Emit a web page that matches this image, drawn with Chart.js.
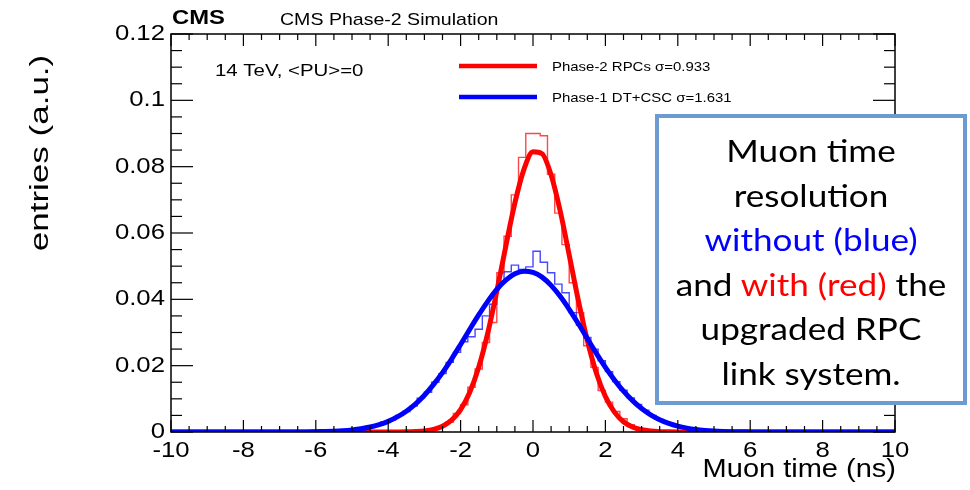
<!DOCTYPE html>
<html>
<head>
<meta charset="utf-8">
<title>Muon time resolution</title>
<script src="https://cdn.jsdelivr.net/npm/chart.js@4.4.1/dist/chart.umd.min.js"></script>
<style>
  html, body { margin: 0; padding: 0; background: #fff; }
  #wrap { position: relative; width: 970px; height: 490px; overflow: hidden; }
  #plot { position: absolute; left: 0; top: 0; }
  .note {
    position: absolute; left: 655px; top: 114px; width: 312px; height: 291px;
    box-sizing: border-box; border: 4px solid #6b9bd1; background: #fff;
    padding-top: 10px; text-align: center; color: #000;
    font-family: Lato, 'Open Sans', sans-serif; font-size: 30px; line-height: 44.6px;
  }
  .note div { transform: scaleX(1.17); transform-origin: 50% 0; white-space: nowrap; }
  .blue { color: #0000ff; }
  .red  { color: #ff0000; }
</style>
</head>
<body>
<div id="wrap">
  <canvas id="plot" width="970" height="490"></canvas>
  <div class="note"><div>Muon time<br>resolution<br><span class="blue">without (blue)</span><br>and <span class="red">with (red)</span> the<br>upgraded RPC<br>link system.</div></div>
</div>
<script>
//DATA
const seriesLabels = ['Phase-2 RPCs \u03c3=0.933', 'Phase-1 DT+CSC \u03c3=1.631'];

// histograms, 0.2 ns bins
const binWidth = 0.2;
const redHistStart = -4;
const redHist = [
  0, 0.00003, 0.00005, 0.0001, 0.0003, 0.0005, 0.0009, 0.0018, 0.0030, 0.0056,
  0.0082, 0.0135, 0.0190, 0.0270, 0.0330, 0.0480, 0.0590, 0.0715, 0.0828, 0.0900,
  0.0900, 0.0893, 0.0777, 0.0660, 0.0565, 0.0450, 0.0360, 0.0260, 0.0195, 0.0125,
  0.0090, 0.0062, 0.0040, 0.0022, 0.0012, 0.0005, 0.0002, 0.0001, 0.00005, 0
];
const blueHistStart = -6;
const blueHist = [
  0.0001, 0.0002, 0.0002, 0.0004, 0.0005, 0.0008, 0.0010, 0.0016, 0.0020, 0.0030,
  0.0036, 0.0050, 0.0062, 0.0078, 0.0102, 0.0120, 0.0150, 0.0176, 0.0210, 0.0240,
  0.0272, 0.0287, 0.0310, 0.0350, 0.0385, 0.0455, 0.0483, 0.0503, 0.0490, 0.0498,
  0.0545, 0.0512, 0.0480, 0.0446, 0.0420, 0.0360, 0.0322, 0.0285, 0.0250, 0.0215,
  0.0182, 0.0152, 0.0126, 0.0103, 0.0083, 0.0066, 0.0050, 0.0038, 0.0029, 0.0021,
  0.0016, 0.0011, 0.0008, 0.0005, 0.0004, 0.0003, 0.0002, 0.0001, 0.0001, 0
];

// fitted curves, read every 0.25 ns from -10 to 10
const fitStart = -10;
const fitStep = 0.25;
const redFit = [
  0, 0, 0, 0, 0, 0, 0, 0, 0, 0, 0, 0, 0, 0, 0, 0, 0, 0, 0, 0, 0, 0, 0, 0,
  0.00001, 0.00002, 0.00005, 0.00014, 0.00034, 0.0008, 0.00175, 0.00356, 0.00675, 0.0119,
  0.0195, 0.0298, 0.0424, 0.0561, 0.0691, 0.0792, 0.0845, 0.0839, 0.0775, 0.0667,
  0.0534, 0.0398, 0.0276, 0.0178, 0.0107, 0.0060, 0.0031, 0.0015, 0.00068, 0.00029,
  0.00011, 0.00004, 0.00001,
  0, 0, 0, 0, 0, 0, 0, 0, 0, 0, 0, 0, 0, 0, 0, 0, 0, 0, 0, 0, 0, 0, 0, 0
];
const blueFit = [
  0, 0, 0, 0, 0, 0, 0, 0, 0, 0, 0, 0, 0, 0, 0, 0,
  0.00009, 0.00015, 0.00025, 0.0004, 0.00064, 0.00099, 0.0015, 0.00222, 0.00321, 0.00454,
  0.00627, 0.00843, 0.0111, 0.0143, 0.0179, 0.0220, 0.0264, 0.0309, 0.0353, 0.0394,
  0.0430, 0.0458, 0.0477, 0.0485, 0.0481, 0.0467, 0.0442, 0.0409, 0.0370, 0.0327,
  0.0282, 0.0237, 0.0195, 0.0157, 0.0123, 0.00945, 0.00708, 0.00518, 0.0037, 0.00258,
  0.00176, 0.00117, 0.00076, 0.00049, 0.0003, 0.00018, 0.0001, 0.00006, 0.00003,
  0, 0, 0, 0, 0, 0, 0, 0, 0, 0, 0, 0, 0, 0, 0, 0
];

// axes
const xTicks = [-10, -8, -6, -4, -2, 0, 2, 4, 6, 8, 10];
const xTickLabels = ['-10', '-8', '-6', '-4', '-2', '0', '2', '4', '6', '8', '10'];
const yTicks = [0, 0.02, 0.04, 0.06, 0.08, 0.1, 0.12];
const yTickLabels = ['0', '0.02', '0.04', '0.06', '0.08', '0.1', '0.12'];
const xMinorStep = 0.5;
const yMinorStep = 0.005;

const RED = '#ff0000';
const BLUE = '#0000ff';
const FONT = "'Liberation Sans', Arial, Helvetica, sans-serif";
const WIDE = 1.17; // the slide image is stretched sideways

const bins = (start, vals) => vals.map((v, i) => ({ x: start + (i + 0.5) * binWidth, y: v }));
const curve = vals => vals.map((v, i) => ({ x: fitStart + i * fitStep, y: v }));

function wideText(ctx, text, x, y, sx = WIDE) {
  ctx.save();
  ctx.translate(x, y);
  ctx.scale(sx, 1);
  ctx.fillText(text, 0, 0);
  ctx.restore();
}

//ROOT-STYLE FRAME, TICKS AND TEXT
const rootFrame = {
  id: 'rootFrame',
  afterDatasetsDraw(chart) {
    const { ctx, chartArea: a, scales: { x, y } } = chart;
    const seg = (x1, y1, x2, y2) => { ctx.beginPath(); ctx.moveTo(x1, y1); ctx.lineTo(x2, y2); ctx.stroke(); };
    ctx.save();
    ctx.strokeStyle = '#000';
    ctx.lineWidth = 1.5;
    ctx.strokeRect(a.left, a.top, a.right - a.left, a.bottom - a.top);

    ctx.lineWidth = 1.2;
    const xLo = xTicks[0], xHi = xTicks[xTicks.length - 1];
    for (let i = 0; xLo + i * xMinorStep <= xHi + 1e-9; i++) {
      const v = xLo + i * xMinorStep;
      const px = x.getPixelForValue(v);
      const len = xTicks.includes(v) ? 12 : 6;
      seg(px, a.bottom, px, a.bottom - len);
      seg(px, a.top, px, a.top + len);
    }
    const yLo = yTicks[0], yHi = yTicks[yTicks.length - 1];
    for (let i = 0; yLo + i * yMinorStep <= yHi + 1e-9; i++) {
      const py = y.getPixelForValue(yLo + i * yMinorStep);
      const len = i % 4 === 0 ? 22 : 11;
      seg(a.left, py, a.left + len, py);
      seg(a.right, py, a.right - len, py);
    }

    ctx.fillStyle = '#000';
    ctx.font = '22px ' + FONT;
    ctx.textAlign = 'center';
    ctx.textBaseline = 'middle';
    xTicks.forEach((v, i) => wideText(ctx, xTickLabels[i], x.getPixelForValue(v), a.bottom + 19));
    ctx.textAlign = 'right';
    yTicks.forEach((v, i) => wideText(ctx, yTickLabels[i], a.left - 6, y.getPixelForValue(v)));

    // axis titles
    ctx.font = '25px ' + FONT;
    ctx.textAlign = 'right';
    wideText(ctx, 'Muon time (ns)', a.right + 1, a.bottom + 38, 1.16);
    ctx.save();
    ctx.translate(41, 153);
    ctx.rotate(-Math.PI / 2);
    ctx.textAlign = 'center';
    ctx.font = '25px ' + FONT;
    wideText(ctx, 'entries (a.u.)', 0, 0, 1.4);
    ctx.restore();

    // header
    ctx.textAlign = 'left';
    ctx.font = 'bold 20px ' + FONT;
    wideText(ctx, 'CMS', a.left + 1, 18, 1.19);
    ctx.font = '17px ' + FONT;
    wideText(ctx, 'CMS Phase-2 Simulation', 280, 20, 1.15);
    ctx.font = '17px ' + FONT;
    wideText(ctx, '14 TeV, <PU>=0', 215, 71, 1.2);

    // legend
    [RED, BLUE].forEach((c, i) => {
      const ly = 66 + i * 31;
      ctx.strokeStyle = c;
      ctx.lineWidth = 4.5;
      seg(459, ly, 537, ly);
      ctx.font = '13px ' + FONT;
      wideText(ctx, seriesLabels[i], 552, ly + 1, 1.15);
    });
    ctx.restore();
  }
};

//CHART
new Chart(document.getElementById('plot'), {
  type: 'line',
  data: {
    datasets: [
      { label: seriesLabels[1] + ' fit', data: curve(blueFit), borderColor: BLUE, borderWidth: 5, pointRadius: 0, cubicInterpolationMode: 'monotone' },
      { label: seriesLabels[0] + ' fit', data: curve(redFit), borderColor: RED, borderWidth: 5, pointRadius: 0, cubicInterpolationMode: 'monotone' },
      { label: seriesLabels[1], data: bins(blueHistStart, blueHist), borderColor: 'rgba(40,40,255,0.85)', borderWidth: 1.4, pointRadius: 0, stepped: 'middle' },
      { label: seriesLabels[0], data: bins(redHistStart, redHist), borderColor: 'rgba(255,40,40,0.85)', borderWidth: 1.4, pointRadius: 0, stepped: 'middle' }
    ]
  },
  options: {
    responsive: false,
    animation: false,
    events: [],
    devicePixelRatio: 1,
    layout: { padding: { left: 171, top: 34, right: 75, bottom: 58 } },
    plugins: { legend: { display: false }, tooltip: { enabled: false } },
    scales: {
      x: { type: 'linear', min: -10, max: 10, display: false },
      y: { type: 'linear', min: 0, max: 0.12, display: false }
    }
  },
  plugins: [rootFrame]
});
</script>
</body>
</html>
